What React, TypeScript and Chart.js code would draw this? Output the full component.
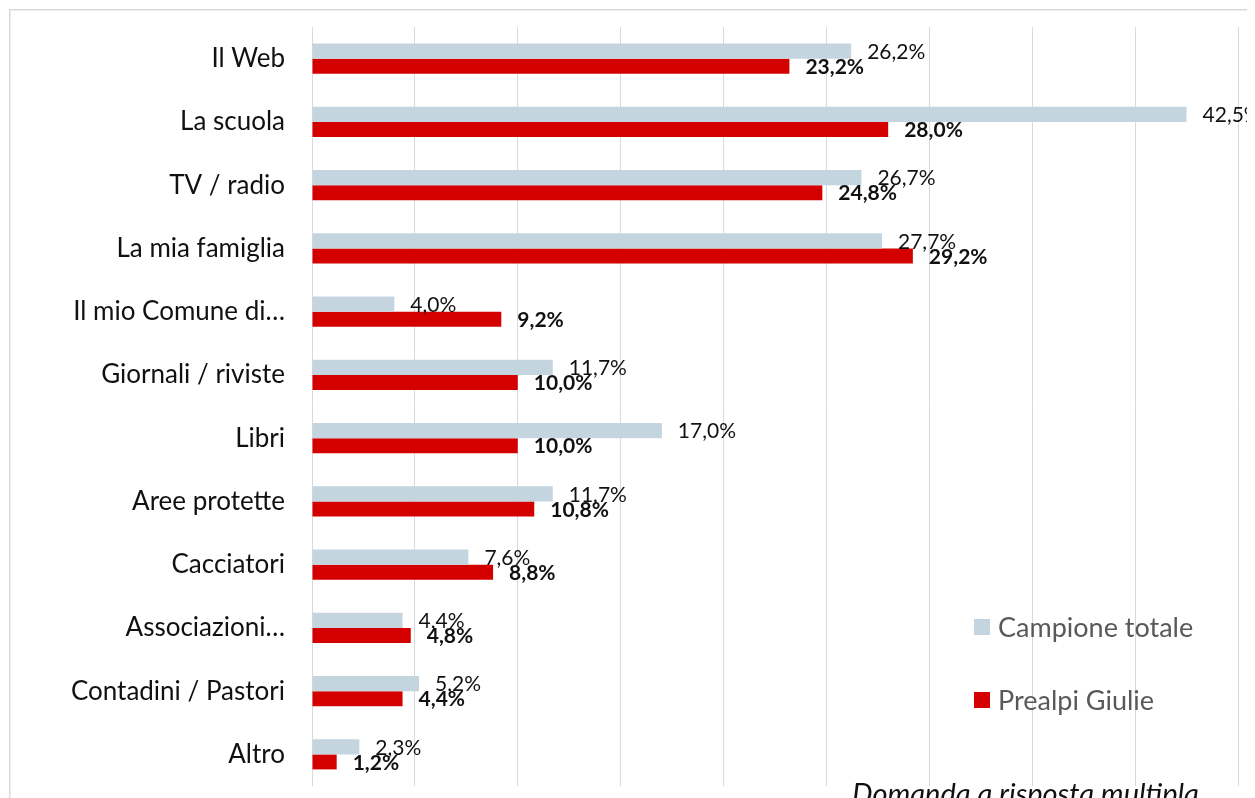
import React, { useEffect, useRef } from "react";
import { Chart, registerables } from "chart.js";

Chart.register(...registerables);

const categories = [
  "Il Web",
  "La scuola",
  "TV / radio",
  "La mia famiglia",
  "Il mio Comune di…",
  "Giornali / riviste",
  "Libri",
  "Aree protette",
  "Cacciatori",
  "Associazioni…",
  "Contadini / Pastori",
  "Altro",
];
const campioneTotale = [26.2, 42.5, 26.7, 27.7, 4.0, 11.7, 17.0, 11.7, 7.6, 4.4, 5.2, 2.3];
const prealpiGiulie = [23.2, 28.0, 24.8, 29.2, 9.2, 10.0, 10.0, 10.8, 8.8, 4.8, 4.4, 1.2];
const seriesNames = ["Campione totale", "Prealpi Giulie"];
const seriesColors = ["#C5D5E0", "#D40000"];
const axisMax = 45;
const axisStep = 5;
const note = "Domanda a risposta multipla";

const FONT = "Lato, 'Open Sans', sans-serif";

const fmt = (v: number) => v.toFixed(1).replace(".", ",") + "%";

const decorPlugin = {
  id: "decor",
  beforeDraw(chart: any) {
    const ctx = chart.ctx;
    ctx.save();
    ctx.strokeStyle = "#D9D9D9";
    ctx.lineWidth = 1.5;
    ctx.strokeRect(1.75, 1.75, 3000, 3000);
    ctx.restore();
  },
  afterDatasetsDraw(chart: any) {
    const ctx = chart.ctx;
    ctx.save();
    ctx.textBaseline = "middle";
    ctx.textAlign = "left";
    chart.data.datasets.forEach((ds: any, di: number) => {
      const meta = chart.getDatasetMeta(di);
      ctx.font = (di === 1 ? "bold " : "") + "21px " + FONT;
      ctx.fillStyle = "#111";
      meta.data.forEach((el: any, i: number) => {
        ctx.fillText(fmt(ds.data[i]), el.x + 16, el.y + 1);
      });
    });
    // legend
    const ca = chart.chartArea;
    const lx = ca.right - 264;
    const ly = [ca.top + 600, ca.top + 673];
    ctx.font = "27px " + FONT;
    chart.data.datasets.forEach((ds: any, di: number) => {
      ctx.fillStyle = ds.backgroundColor;
      ctx.fillRect(lx, ly[di] - 8, 16, 16);
      ctx.fillStyle = "#595959";
      ctx.fillText(ds.label, lx + 24, ly[di] + 1);
    });
    // note
    ctx.font = "italic 29px " + FONT;
    ctx.fillStyle = "#111";
    ctx.textBaseline = "alphabetic";
    ctx.fillText(note, 844, 796);
    ctx.restore();
  },
};

export default function App() {
  const ref = useRef<HTMLCanvasElement | null>(null);
  useEffect(() => {
    document.documentElement.style.overflow = "hidden";
    document.body.style.overflow = "hidden";
    const canvas = ref.current!;
    const chart = new Chart(canvas, {
      type: "bar",
      data: {
        labels: categories,
        datasets: [
          {
            label: seriesNames[0],
            data: campioneTotale,
            backgroundColor: seriesColors[0],
            barPercentage: 1,
            categoryPercentage: 0.475,
          },
          {
            label: seriesNames[1],
            data: prealpiGiulie,
            backgroundColor: seriesColors[1],
            barPercentage: 1,
            categoryPercentage: 0.475,
          },
        ],
      },
      options: {
        indexAxis: "y",
        animation: false,
        responsive: false,
        layout: { padding: { top: 19, bottom: 12, right: 17, left: 0 } },
        plugins: {
          legend: { display: false },
          tooltip: { enabled: false },
        },
        scales: {
          x: {
            min: 0,
            max: axisMax,
            ticks: { display: false, stepSize: axisStep },
            grid: { color: "#D9D9D9", lineWidth: 1, drawTicks: false },
            border: { display: false },
            afterFit(scale: any) {
              scale.height = 0;
              scale.paddingLeft = 0;
              scale.paddingRight = 0;
            },
          },
          y: {
            grid: { display: false, drawTicks: false },
            border: { display: false },
            ticks: {
              padding: 27,
              color: "#111",
              font: { family: FONT, size: 26 },
            },
            afterFit(scale: any) {
              scale.width = 304;
              scale.paddingTop = 0;
              scale.paddingBottom = 0;
            },
          },
        },
      },
      plugins: [decorPlugin],
    });
    return () => chart.destroy();
  }, []);
  return (
    <div style={{ width: 1247, height: 790 }}>
      <canvas ref={ref} width={1247} height={790} style={{ display: "block" }} />
    </div>
  );
}
